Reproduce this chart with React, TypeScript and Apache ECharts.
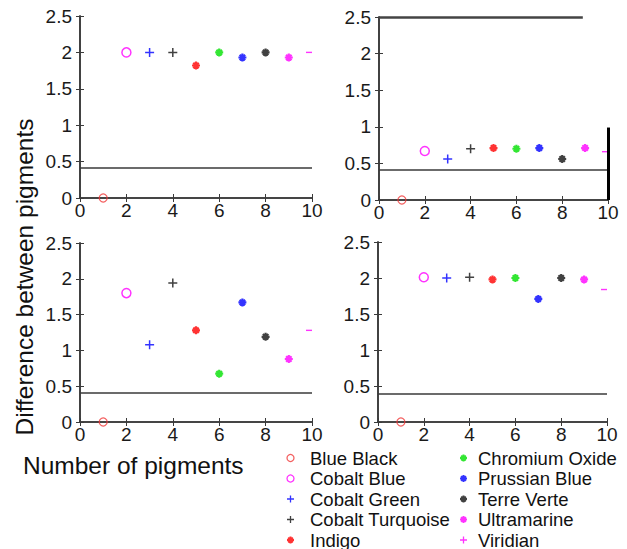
import React, { useEffect, useRef } from "react";
import * as echarts from "echarts";

const pigments = [
  "Blue Black",
  "Cobalt Blue",
  "Cobalt Green",
  "Cobalt Turquoise",
  "Indigo",
  "Chromium Oxide",
  "Prussian Blue",
  "Terre Verte",
  "Ultramarine",
  "Viridian",
];
const pigmentIndex = [1, 2, 3, 4, 5, 6, 7, 8, 9, 10];

const panelTopLeft = [0, 2.0, 2.0, 2.0, 1.82, 2.0, 1.93, 2.0, 1.93, 2.0];
const panelTopRight = [0, 0.67, 0.56, 0.7, 0.71, 0.7, 0.71, 0.56, 0.71, 0.66];
const panelBottomLeft = [0, 1.8, 1.08, 1.94, 1.28, 0.675, 1.67, 1.19, 0.88, 1.28];
const panelBottomRight = [0, 2.01, 2.0, 2.01, 1.98, 2.0, 1.71, 2.0, 1.98, 1.84];
const panels = [panelTopLeft, panelTopRight, panelBottomLeft, panelBottomRight];

const thresholds = [0.42, 0.42, 0.41, 0.39];

const xTicks = [0, 2, 4, 6, 8, 10];
const yTicks = [0, 0.5, 1, 1.5, 2, 2.5];

// artefacts in the top-right panel
const topRightTopEdge = [[0, 2.5], [8.9, 2.5]];
const topRightRightEdge = [[10, 0], [10, 0.99]];

const FONT = "'Liberation Sans', Arial, sans-serif";

const PLUS = "path://M5,0L5,10M0,5L10,5";
const STAR = "path://M5,0L5,10M0,5L10,5M1.6,1.6L8.4,8.4M8.4,1.6L1.6,8.4";

type MarkerStyle = { symbol: string; color: string; size: number; width: number };

const markers: MarkerStyle[] = [
  { symbol: "circle", color: "#f03a3a", size: 8, width: 1.3 },
  { symbol: "circle", color: "#ff00ff", size: 9, width: 1.5 },
  { symbol: PLUS, color: "#0000ff", size: 9, width: 1.5 },
  { symbol: PLUS, color: "#111111", size: 9, width: 1.5 },
  { symbol: STAR, color: "#ff0000", size: 8, width: 2.2 },
  { symbol: STAR, color: "#00e000", size: 8, width: 2.2 },
  { symbol: STAR, color: "#0000ff", size: 8, width: 2.2 },
  { symbol: STAR, color: "#111111", size: 8, width: 2.2 },
  { symbol: STAR, color: "#ff00ff", size: 8, width: 2.2 },
  { symbol: PLUS, color: "#ff00ff", size: 8, width: 1 },
];

const grids = [
  { left: 80, top: 16, width: 232, height: 182 },
  { left: 379, top: 17, width: 229, height: 183 },
  { left: 80, top: 243, width: 232, height: 179 },
  { left: 378, top: 242, width: 229, height: 180 },
];

export default function App() {
  const ref = useRef<HTMLDivElement>(null);

  useEffect(() => {
    if (!ref.current) return;
    const chart = echarts.init(ref.current, undefined, { renderer: "svg" });

    const axisLine = { show: true, lineStyle: { color: "#3a3a3a", width: 1.6 } };
    const axisTick = { show: true, inside: true, length: 4, lineStyle: { color: "#3a3a3a", width: 1 } };
    const labelStyle = { color: "#1a1a1a", fontSize: 19, fontFamily: FONT };

    const xAxis: any[] = [];
    const yAxis: any[] = [];
    grids.forEach((_, g) => {
      xAxis.push({
        type: "value",
        gridIndex: g,
        min: xTicks[0],
        max: xTicks[xTicks.length - 1],
        interval: 2,
        position: "bottom",
        axisLine,
        axisTick,
        splitLine: { show: false },
        axisLabel: { ...labelStyle, margin: 3 },
      });
      xAxis.push({
        type: "value",
        gridIndex: g,
        min: xTicks[0],
        max: xTicks[xTicks.length - 1],
        interval: 2,
        position: "top",
        axisLine,
        axisTick,
        splitLine: { show: false },
        axisLabel: { show: false },
      });
      yAxis.push({
        type: "value",
        gridIndex: g,
        min: yTicks[0],
        max: yTicks[yTicks.length - 1],
        interval: 0.5,
        position: "left",
        axisLine,
        axisTick,
        splitLine: { show: false },
        axisLabel: { ...labelStyle, margin: 8 },
      });
      yAxis.push({
        type: "value",
        gridIndex: g,
        min: yTicks[0],
        max: yTicks[yTicks.length - 1],
        interval: 0.5,
        position: "right",
        axisLine,
        axisTick,
        splitLine: { show: false },
        axisLabel: { show: false },
      });
    });

    const series: any[] = [];
    panels.forEach((vals, g) => {
      pigments.forEach((name, i) => {
        const m = markers[i];
        const isViridian = i === pigments.length - 1;
        const s: any = {
          type: "scatter",
          name,
          xAxisIndex: g * 2,
          yAxisIndex: g * 2,
          clip: false,
          symbol: isViridian ? "rect" : m.symbol,
          symbolSize: isViridian ? [6, 1.4] : m.size,
          symbolOffset: isViridian ? [-3, 0] : [0, 0],
          itemStyle: isViridian
            ? { color: m.color, borderWidth: 0 }
            : { color: "none", borderColor: m.color, borderWidth: m.width },
          data: [[pigmentIndex[i], vals[i]]],
          z: 3,
        };
        if (i === 0) {
          const lines: any[] = [
            [
              { coord: [xTicks[0], thresholds[g]] },
              { coord: [xTicks[xTicks.length - 1], thresholds[g]] },
            ],
          ];
          if (g === 1) {
            lines.push([
              { coord: topRightTopEdge[0], lineStyle: { width: 2.6, color: "#444444", type: "solid" } },
              { coord: topRightTopEdge[1] },
            ]);
            lines.push([
              { coord: topRightRightEdge[0], lineStyle: { width: 3, color: "#000", type: "solid" } },
              { coord: topRightRightEdge[1] },
            ]);
          }
          s.markLine = {
            silent: true,
            symbol: ["none", "none"],
            label: { show: false },
            lineStyle: { color: "#3a3a3a", width: 1.6, type: "solid" },
            emphasis: { disabled: true },
            data: lines,
          };
        }
        series.push(s);
      });
    });

    const legendText = (padLeft: number) => ({
      fontSize: 18.5,
      fontFamily: FONT,
      color: "#111",
      lineHeight: 20,
      padding: [0, 0, 0, padLeft],
    });
    const legendData = (names: string[]) =>
      names.map((n) => {
        const i = pigments.indexOf(n);
        const m = markers[i];
        return {
          name: n,
          icon: m.symbol,
          itemStyle: { color: "none", borderColor: m.color, borderWidth: i >= 4 && i <= 8 ? 2 : 1.3 },
        };
      });

    chart.setOption({
      animation: false,
      backgroundColor: "#ffffff",
      grid: grids.map((g) => ({ ...g, show: false, containLabel: false })),
      xAxis,
      yAxis,
      series,
      legend: [
        {
          orient: "vertical",
          left: 284.5,
          top: 448,
          height: 120,
          itemWidth: 7,
          itemHeight: 7,
          itemGap: 0.5,
          textStyle: legendText(11),
          selectedMode: false,
          data: legendData(pigments.slice(0, 5)),
          padding: 0,
        },
        {
          orient: "vertical",
          left: 457.5,
          top: 448,
          height: 120,
          itemWidth: 7,
          itemHeight: 7,
          itemGap: 0.5,
          textStyle: legendText(6),
          selectedMode: false,
          data: legendData(pigments.slice(5)),
          padding: 0,
        },
      ],
      graphic: [
        {
          type: "text",
          left: 23,
          top: 453,
          style: { text: "Number of pigments", fontSize: 24.5, fontFamily: FONT, fill: "#111" },
        },
        {
          type: "text",
          x: 24,
          y: 277,
          rotation: Math.PI / 2,
          style: {
            text: "Difference between pigments",
            fontSize: 24.5,
            fontFamily: FONT,
            fill: "#111",
            align: "center",
            verticalAlign: "middle",
          },
        },
      ],
    });

    return () => chart.dispose();
  }, []);

  return (
    <div
      ref={ref}
      style={{ position: "fixed", left: 0, top: 0, width: 627, height: 549, background: "#fff" }}
    />
  );
}
